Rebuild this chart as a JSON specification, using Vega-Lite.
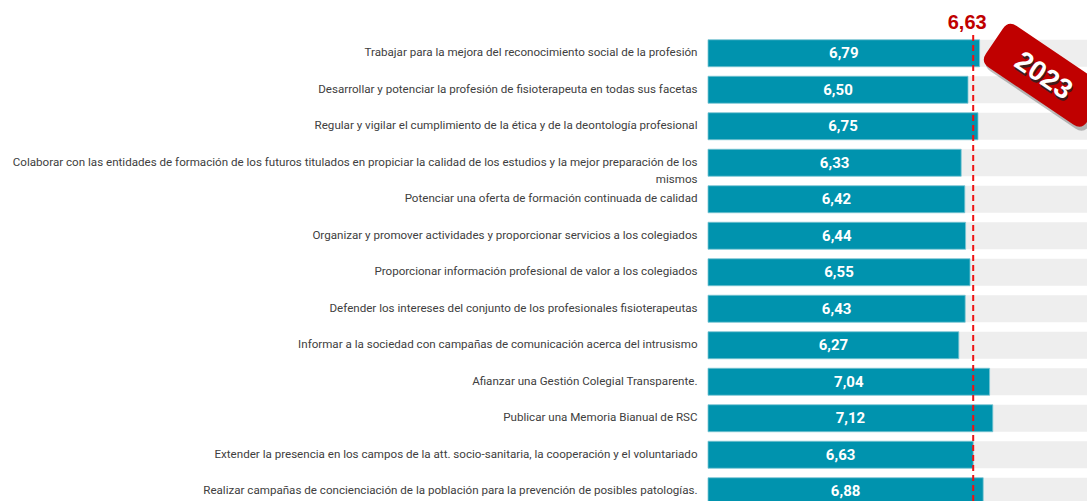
{
  "$schema": "https://vega.github.io/schema/vega-lite/v6.json",
  "autosize": {"type": "none"},
  "width": 380,
  "height": 474.5,
  "padding": {"left": 708, "top": 35, "right": 0, "bottom": 0},
  "background": "white",
  "config": {"view": {"stroke": null}},
  "resolve": {"scale": {"x": "independent"}},
  "datasets": {
    "rows": [
      {"objetivo": "Trabajar para la mejora del reconocimiento social de la profesión", "valor": 6.79},
      {"objetivo": "Desarrollar y potenciar la profesión de fisioterapeuta en todas sus facetas", "valor": 6.50},
      {"objetivo": "Regular y vigilar el cumplimiento de la ética y de la deontología profesional", "valor": 6.75},
      {"objetivo": "Colaborar con las entidades de formación de los futuros titulados en propiciar la calidad de los estudios y la mejor preparación de los mismos", "valor": 6.33},
      {"objetivo": "Potenciar una oferta de formación continuada de calidad", "valor": 6.42},
      {"objetivo": "Organizar y promover actividades y proporcionar servicios a los colegiados", "valor": 6.44},
      {"objetivo": "Proporcionar información profesional de valor a los colegiados", "valor": 6.55},
      {"objetivo": "Defender los intereses del conjunto de los profesionales fisioterapeutas", "valor": 6.43},
      {"objetivo": "Informar a la sociedad con campañas de comunicación acerca del intrusismo", "valor": 6.27},
      {"objetivo": "Afianzar una Gestión Colegial Transparente.", "valor": 7.04},
      {"objetivo": "Publicar una Memoria Bianual de RSC", "valor": 7.12},
      {"objetivo": "Extender la presencia en los campos de la att. socio-sanitaria, la cooperación y el voluntariado", "valor": 6.63},
      {"objetivo": "Realizar campañas de concienciación de la población para la prevención de posibles patologías.", "valor": 6.88}
    ],
    "media": [{"valor": 6.63, "objetivo": "Trabajar para la mejora del reconocimiento social de la profesión"}],
    "badge": [{"x": 8.425, "objetivo": "Desarrollar y potenciar la profesión de fisioterapeuta en todas sus facetas", "anio": "2023"}]
  },
  "layer": [
    {
      "layer": [
        {
          "data": {"name": "rows"},
          "mark": {"type": "bar", "color": "#EEEEEE", "clip": true},
          "encoding": {
            "y": {
              "field": "objetivo", "type": "nominal", "sort": null,
              "scale": {"paddingInner": 0.26, "paddingOuter": 0.13},
              "axis": {
                "title": null, "domain": false, "ticks": false, "labelPadding": 11,
                "labelLimit": 800, "labelFont": "Roboto", "labelFontSize": 11.6,
                "labelColor": "#404040", "labelLineHeight": 17,
                "labelExpr": "indexof(datum.value, ' mismos') > 0 ? [substring(datum.value, 0, indexof(datum.value, ' mismos')), 'mismos'] : datum.value"
              }
            },
            "x": {"datum": 10, "type": "quantitative", "scale": {"domain": [0, 9.5], "nice": false, "zero": true}, "axis": null}
          }
        },
        {
          "data": {"name": "rows"},
          "mark": {"type": "bar", "color": "#0093AE", "stroke": "#7cc6d4", "strokeWidth": 0.8},
          "encoding": {
            "y": {"field": "objetivo", "type": "nominal", "sort": null},
            "x": {"field": "valor", "type": "quantitative"}
          }
        },
        {
          "data": {"name": "media"},
          "mark": {"type": "rule", "color": "#EE1111", "strokeDash": [6, 4], "strokeWidth": 2},
          "encoding": {"x": {"field": "valor", "type": "quantitative"}}
        },
        {
          "data": {"name": "media"},
          "mark": {"type": "text", "color": "#C00000", "font": "Liberation Sans", "fontWeight": "bold", "fontSize": 20, "align": "center", "baseline": "middle", "dy": -30, "dx": -6,
                   "text": {"expr": "replace(format(datum.valor, '.2f'), '.', ',')"}},
          "encoding": {
            "x": {"field": "valor", "type": "quantitative"},
            "y": {"field": "objetivo", "type": "nominal", "sort": null}
          }
        },
        {
          "data": {"name": "badge"},
          "mark": {"type": "point", "filled": true, "color": "#000000", "opacity": 0.25, "angle": 34, "size": 14884,
                   "shape": "M -0.836 -0.41 L 0.836 -0.41 Q 1 -0.41 1 -0.246 L 1 0.246 Q 1 0.41 0.836 0.41 L -0.836 0.41 Q -1 0.41 -1 0.246 L -1 -0.246 Q -1 -0.41 -0.836 -0.41 Z"},
          "encoding": {
            "x": {"field": "x", "type": "quantitative"},
            "y": {"field": "objetivo", "type": "nominal", "sort": null},
            "xOffset": {"value": 2},
            "yOffset": {"value": 3}
          }
        },
        {
          "data": {"name": "badge"},
          "mark": {"type": "point", "filled": true, "color": "#C00000", "opacity": 1, "angle": 34, "size": 14884,
                   "shape": "M -0.836 -0.41 L 0.836 -0.41 Q 1 -0.41 1 -0.246 L 1 0.246 Q 1 0.41 0.836 0.41 L -0.836 0.41 Q -1 0.41 -1 0.246 L -1 -0.246 Q -1 -0.41 -0.836 -0.41 Z"},
          "encoding": {
            "x": {"field": "x", "type": "quantitative"},
            "y": {"field": "objetivo", "type": "nominal", "sort": null},
            "yOffset": {"value": -1}
          }
        },
        {
          "data": {"name": "badge"},
          "mark": {"type": "text", "color": "#222222", "opacity": 0.8, "font": "Liberation Sans", "fontWeight": "bold", "fontSize": 28, "angle": 34, "align": "center", "baseline": "middle", "dx": 1, "dy": 4},
          "encoding": {
            "x": {"field": "x", "type": "quantitative"},
            "y": {"field": "objetivo", "type": "nominal", "sort": null},
            "yOffset": {"value": -1},
            "text": {"field": "anio"}
          }
        },
        {
          "data": {"name": "badge"},
          "mark": {"type": "text", "color": "white", "font": "Liberation Sans", "fontWeight": "bold", "fontSize": 28, "angle": 34, "align": "center", "baseline": "middle", "dx": -1, "dy": 2},
          "encoding": {
            "x": {"field": "x", "type": "quantitative"},
            "y": {"field": "objetivo", "type": "nominal", "sort": null},
            "yOffset": {"value": -1},
            "text": {"field": "anio"}
          }
        }
      ]
    },
    {
      "data": {"name": "rows"},
      "mark": {"type": "text", "color": "white", "font": "Roboto", "fontWeight": "bold", "fontSize": 15, "align": "center", "baseline": "middle",
               "text": {"expr": "replace(format(datum.valor, '.2f'), '.', ',')"}},
      "encoding": {
        "y": {"field": "objetivo", "type": "nominal", "sort": null},
        "x": {"field": "valor", "type": "quantitative", "scale": {"domain": [0, 19], "nice": false, "zero": true}, "axis": null}
      }
    }
  ]
}
